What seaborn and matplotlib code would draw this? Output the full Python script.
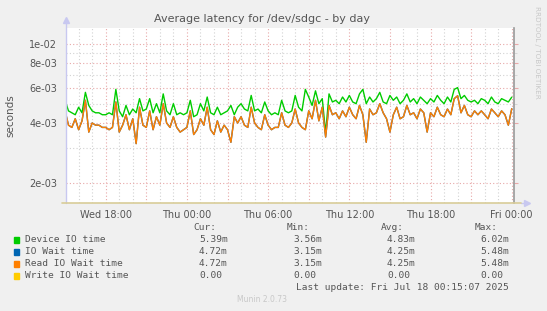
import numpy as np
import pandas as pd
import matplotlib
matplotlib.use("Agg")
import matplotlib.pyplot as plt
import matplotlib.dates as mdates
from matplotlib.ticker import FixedLocator, FuncFormatter, NullFormatter
import seaborn as sns

# ---------------- data (milliseconds, 15-minute samples from Wed 15:00) ----------------
device_ms = [
    5.2, 4.6, 4.5, 4.4,   # Wed 15
    4.8, 4.5, 5.7, 4.9,   # 16
    4.6, 4.5, 4.5, 4.4,   # 17
    4.4, 4.5, 4.4, 5.9,   # 18
    4.6, 4.3, 4.9, 4.4,   # 19
    4.7, 4.5, 5.3, 4.6,   # 20
    4.7, 5.3, 4.5, 5.0,   # 21
    4.5, 5.6, 4.6, 4.4,   # 22
    5.0, 4.4, 4.5, 4.4,   # 23
    4.5, 5.2, 4.3, 4.4,   # Thu 00
    5.0, 4.6, 5.4, 4.5,   # 01
    4.4, 4.8, 4.4, 4.5,   # 02
    4.6, 4.9, 4.4, 4.8,   # 03
    5.0, 4.7, 4.6, 5.5,   # 04
    4.6, 4.7, 4.5, 5.1,   # 05
    4.6, 4.4, 4.5, 4.4,   # 06
    5.2, 4.6, 4.5, 4.6,   # 07
    5.5, 4.8, 4.6, 5.9,   # 08
    5.4, 4.9, 5.8, 5.0,   # 09
    5.3, 3.56, 5.6, 5.1,  # 10
    5.2, 5.0, 5.4, 5.1,   # 11
    5.5, 5.1, 5.0, 5.6,   # 12
    5.9, 5.0, 5.4, 5.1,   # 13
    5.3, 5.7, 5.1, 5.0,   # 14
    5.5, 5.2, 5.4, 5.0,   # 15
    5.2, 5.6, 5.1, 5.3,   # 16
    5.0, 5.4, 5.2, 5.0,   # 17
    5.3, 5.1, 5.5, 5.2,   # 18
    5.0, 5.4, 5.1, 5.9,   # 19
    6.02, 5.3, 5.5, 5.2,  # 20
    5.1, 5.2, 5.0, 5.3,   # 21
    5.2, 5.0, 5.4, 5.1,   # 22
    5.0, 5.3, 5.2, 5.1,   # 23
    5.39,                 # Fri 00
]
read_ms = [
    4.6, 3.9, 3.8, 4.2,
    3.7, 4.1, 5.2, 3.6,
    4.0, 3.9, 3.9, 3.8,
    3.8, 3.7, 3.8, 5.1,
    3.6, 3.9, 4.4, 3.7,
    4.2, 3.15, 4.8, 3.9,
    3.8, 4.6, 3.7, 4.3,
    3.9, 5.0, 4.0, 3.8,
    4.3, 3.8, 3.6, 3.7,
    3.8, 4.6, 3.5, 3.7,
    4.2, 3.9, 4.8, 3.7,
    3.5, 4.1, 3.6, 3.9,
    3.7, 3.2, 4.3, 4.0,
    4.3, 3.9, 3.8, 4.8,
    4.0, 3.8, 3.7, 4.4,
    3.9, 3.7, 3.8, 3.8,
    4.5, 3.9, 3.8, 4.0,
    4.7, 4.0, 3.8, 3.7,
    4.6, 4.2, 5.2, 4.1,
    4.8, 3.4, 4.9, 4.4,
    4.5, 4.2, 4.6, 4.3,
    4.8, 4.4, 4.2, 4.9,
    4.4, 3.2, 4.7, 4.4,
    4.5, 5.0, 4.5, 4.2,
    3.6, 4.4, 4.8, 4.2,
    4.3, 4.9, 4.4, 4.5,
    4.2, 4.7, 4.5, 3.6,
    4.5, 4.3, 4.8, 4.4,
    4.3, 4.7, 4.4, 5.3,
    5.48, 4.5, 4.9, 4.4,
    4.3, 4.6, 4.4, 4.6,
    4.4, 4.2, 4.7, 4.5,
    4.3, 4.6, 4.4, 3.9,
    4.72,
]
iowait_ms = list(read_ms)          # IO Wait time identical to Read IO Wait time

series_names = ["Device IO time", "IO Wait time", "Read IO Wait time", "Write IO Wait time"]
series_colors = ["#00cc00", "#0066b3", "#ff8000", "#ffcc00"]
stats_cur = ["5.39m", "4.72m", "4.72m", "0.00"]
stats_min = ["3.56m", "3.15m", "3.15m", "0.00"]
stats_avg = ["4.83m", "4.25m", "4.25m", "0.00"]
stats_max = ["6.02m", "5.48m", "5.48m", "0.00"]

y_major = [2e-3, 4e-3, 6e-3, 8e-3, 1e-2]
y_minor = [3e-3, 5e-3, 7e-3, 9e-3]

start = pd.Timestamp("2025-07-16 15:00")
times = pd.date_range(start, periods=len(device_ms), freq="15min")

df = pd.concat([
    pd.DataFrame({"time": times, "value": np.array(device_ms) * 1e-3, "series": series_names[0]}),
    pd.DataFrame({"time": times, "value": np.array(iowait_ms) * 1e-3, "series": series_names[1]}),
    pd.DataFrame({"time": times, "value": np.array(read_ms) * 1e-3, "series": series_names[2]}),
])

# ---------------- style ----------------
sns.set_style("white")
plt.rcParams["font.family"] = ["DejaVu Sans"]
TXT = "#555555"
BG = "#f0f0f0"

W, H = 547, 311
fig = plt.figure(figsize=(W / 100, H / 100), dpi=100, facecolor=BG)
L, R, T, B = 66, 514, 28, 203
ax = fig.add_axes([L / W, (H - B) / H, (R - L) / W, (B - T) / H])
ax.set_facecolor("white")

sns.lineplot(data=df, x="time", y="value", hue="series",
             palette=dict(zip(series_names[:3], series_colors[:3])),
             linewidth=1.0, legend=False, ax=ax, estimator=None, sort=False)

ax.set_yscale("log")
ax.set_ylim(1.585e-3, 1.2e-2)
ax.set_xlim(pd.Timestamp("2025-07-16 15:04"), pd.Timestamp("2025-07-18 00:10"))

# ticks / grid
ax.yaxis.set_major_locator(FixedLocator(y_major))
ax.yaxis.set_minor_locator(FixedLocator(y_minor))
ax.yaxis.set_major_formatter(FuncFormatter(lambda v, p: "%.0e" % v))
ax.yaxis.set_minor_formatter(NullFormatter())
ax.xaxis.set_major_locator(mdates.HourLocator(byhour=[0, 6, 12, 18]))
ax.xaxis.set_major_formatter(mdates.DateFormatter("%a %H:%M"))
ax.xaxis.set_minor_locator(mdates.HourLocator())

red = "#e8a8a8"
grey = "#d2d2d2"
ax.grid(False)
for h in pd.date_range("2025-07-16 15:00", "2025-07-18 00:00", freq="1h"):
    c = red if h.hour % 3 == 0 else grey
    ax.axvline(h, color=c, lw=0.8, ls=(0, (1, 2)), zorder=0)
for v in y_major:
    ax.axhline(v, color=red, lw=0.8, ls=(0, (1, 2)), zorder=0)
for v in y_minor:
    ax.axhline(v, color=grey, lw=0.8, ls=(0, (1, 2)), zorder=0)

ax.tick_params(axis="both", which="major", labelsize=7, colors=TXT, length=3, width=0.8)
ax.tick_params(axis="y", which="major", color=red, right=True, direction="out")
ax.tick_params(axis="y", which="minor", length=2, color=grey, right=True)
ax.tick_params(axis="x", which="major", color=red, pad=2)
ax.tick_params(axis="x", which="minor", length=0)
for lab in ax.get_xticklabels() + ax.get_yticklabels():
    lab.set_color(TXT)

ax.spines["top"].set_visible(False)
ax.spines["right"].set_color("#999999")
ax.spines["right"].set_linewidth(1.2)
ax.spines["left"].set_visible(False)
ax.spines["bottom"].set_visible(False)

ax.set_xlabel("")
ax.set_ylabel("seconds", fontsize=7.5, color=TXT)
ax.yaxis.set_label_coords(-0.114, 0.5)

# axis lines with arrows (rrdtool style)
axc = "#c8c8f0"
ax.plot([0, 0], [0, 1.045], transform=ax.transAxes, color=axc, lw=1, clip_on=False)
ax.plot([0], [1.045], transform=ax.transAxes, marker="^", ms=4, color=axc, clip_on=False)
ax.plot([-0.01, 1.015], [0, 0], transform=ax.transAxes, color="#d8cc98", lw=1.2, clip_on=False, zorder=5)
ax.plot([1.015, 1.03], [0, 0], transform=ax.transAxes, color=axc, lw=1, clip_on=False)
ax.plot([1.03], [0], transform=ax.transAxes, marker=">", ms=4, color=axc, clip_on=False)

# title & side texts
fig.text(262 / W, 1 - 19 / H, "Average latency for /dev/sdgc - by day",
         ha="center", va="center", fontsize=8, color=TXT)
fig.text(537 / W, 1 - 52 / H, "RRDTOOL / TOBI OETIKER", rotation=270,
         ha="center", va="center", fontsize=5.2, color="#c8c8c8")
fig.text(262 / W, 1 - 299 / H, "Munin 2.0.73", ha="center", va="center",
         fontsize=5.5, color="#c8c8c8")

# legend table
mono = "DejaVu Sans Mono"
fs = 6.8
hdr_y = 228
row_y = [240, 252, 264, 276]
hdr_x = [193, 287, 381, 475]
val_x = [199, 293, 387, 480]
for x, t in zip(hdr_x, ["Cur:", "Min:", "Avg:", "Max:"]):
    fig.text(x / W, 1 - hdr_y / H, t, family=mono, fontsize=fs, color=TXT, va="center", ha="left")
for i, name in enumerate(series_names):
    y = 1 - row_y[i] / H
    fig.patches.append(plt.Rectangle(((13.5) / W, y - 3 / H), 5.5 / W, 6 / H,
                                     transform=fig.transFigure, color=series_colors[i]))
    fig.text(25 / W, y, name, family=mono, fontsize=fs, color=TXT, va="center", ha="left")
    for x, vals in zip(val_x, [stats_cur, stats_min, stats_avg, stats_max]):
        fig.text(x / W, y, vals[i], family=mono, fontsize=fs, color=TXT, va="center", ha="left")
fig.text(509 / W, 1 - 288 / H, "Last update: Fri Jul 18 00:15:07 2025", family=mono,
         fontsize=fs, color=TXT, va="center", ha="right")

fig.savefig("out.png", dpi=100, facecolor=BG)
